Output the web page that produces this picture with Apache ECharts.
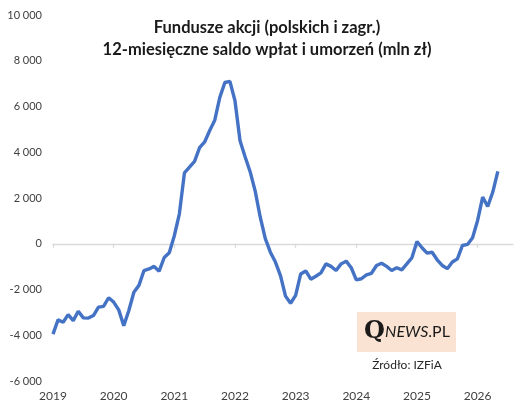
<!DOCTYPE html>
<html>
<head>
<meta charset="utf-8">
<script src="https://cdn.jsdelivr.net/npm/echarts@6/dist/echarts.min.js"></script>
<style>
html,body{margin:0;padding:0;background:#fff;}
#c{width:529px;height:414px;}
</style>
</head>
<body>
<div id="c"></div>
<script>
// Months since Jan 2019 (0 = Jan 2019)
const months = [];
for (let i = 0; i < 89; i++) months.push(i);
// 12-month net flows (mln zł)
const values = [
  -3950, -3330, -3430, -3100, -3360, -2950, -3240, -3250, -3140, -2770, -2740, -2360,
  -2550, -2890, -3580, -2920, -2120, -1820, -1170, -1100, -990, -1200, -600, -390,
  350, 1310, 3100, 3350, 3600, 4200, 4450, 4950, 5400, 6400, 7050, 7100,
  6250, 4500, 3800, 3150, 2300, 1160, 220, -370, -800, -1390, -2290, -2600,
  -2260, -1320, -1190, -1550, -1420, -1270, -880, -990, -1170, -880, -760, -1050,
  -1580, -1530, -1360, -1290, -950, -850, -990, -1170, -1050, -1140, -880, -610,
  100, -175, -410, -370, -700, -950, -1090, -800, -660, -75, -30, 260,
  1020, 2040, 1630, 2260, 3160
];
const yearTicks = [0, 12, 24, 36, 48, 60, 72, 84];
const yearLabels = ['2019', '2020', '2021', '2022', '2023', '2024', '2025', '2026'];
const titleLines = ['Fundusze akcji (polskich i zagr.)', '12-miesięczne saldo wpłat i umorzeń (mln zł)'];
const sourceText = 'Źródło: IZFiA';

const fmt = v => String(v).replace(/\B(?=(\d{3})+(?!\d))/g, ' ');
const chart = echarts.init(document.getElementById('c'), null, {renderer: 'canvas'});
chart.setOption({
  animation: false,
  backgroundColor: '#ffffff',
  title: {
    text: titleLines.join('\n'),
    left: 262, top: 12, textAlign: 'center',
    textStyle: {fontFamily: 'Lato', fontWeight: 'bold', fontSize: 16.5, color: '#1a1a1a', lineHeight: 22}
  },
  grid: {left: 53, right: 16, top: 15, bottom: 33, containLabel: false},
  xAxis: [{
    type: 'value', min: 0, max: 91,
    axisLine: {onZero: true, lineStyle: {color: '#d9d9d9', width: 1.3}},
    axisTick: {show: true, length: 4, lineStyle: {color: '#d9d9d9', width: 1.3}, customValues: yearTicks},
    axisLabel: {show: false},
    splitLine: {show: false}
  }, {
    type: 'value', min: 0, max: 91, position: 'bottom',
    axisLine: {show: false, onZero: false},
    axisTick: {show: false},
    axisLabel: {
      show: true, customValues: yearTicks, margin: 9,
      formatter: v => yearLabels[yearTicks.indexOf(v)] || '',
      fontFamily: 'Lato', fontSize: 12, color: '#404040'
    },
    splitLine: {show: false}
  }],
  yAxis: {
    type: 'value', min: -6000, max: 10000, interval: 2000,
    axisLine: {show: false}, axisTick: {show: false}, splitLine: {show: false},
    axisLabel: {formatter: fmt, fontFamily: 'Lato', fontSize: 11, color: '#404040', margin: 11}
  },
  series: [{
    type: 'line', xAxisIndex: 0,
    data: months.map((m, i) => [m, values[i]]),
    symbol: 'none', smooth: false,
    lineStyle: {color: '#4472c4', width: 3.4}
  }],
  graphic: [
    {type: 'rect', shape: {x: 357, y: 312, width: 99, height: 40}, style: {fill: '#fbe3d3'}},
    {type: 'text', x: 407, y: 332, style: {
      text: '{q|Q}{n|NEWS}{p|.PL}', align: 'center', verticalAlign: 'middle',
      rich: {
        q: {fontFamily: 'DejaVu Serif', fontSize: 24, fontWeight: 'bold', fill: '#1a1a1a'},
        n: {fontFamily: 'Lato', fontStyle: 'italic', fontSize: 16, fill: '#1a1a1a'},
        p: {fontFamily: 'Lato', fontSize: 16, fill: '#1a1a1a'}
      }
    }},
    {type: 'text', x: 407, y: 365, style: {text: sourceText, align: 'center', verticalAlign: 'middle',
      fontFamily: 'Lato', fontSize: 12, fill: '#262626'}}
  ]
});
</script>
</body>
</html>
